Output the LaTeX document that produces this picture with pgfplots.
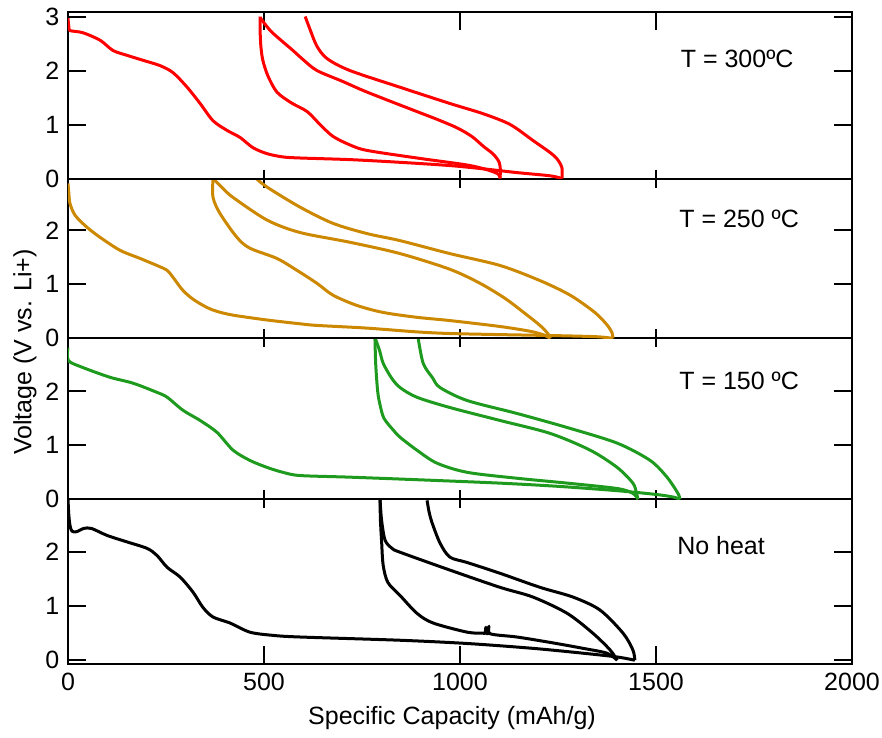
\documentclass[border=0pt]{standalone}
\usepackage{fontspec}
\setmainfont{Liberation Sans}
\usepackage{pgfplots}
\pgfplotsset{compat=1.18}

\definecolor{cA}{RGB}{255,0,0}
\definecolor{cB}{RGB}{204,136,0}
\definecolor{cC}{RGB}{30,155,30}

\pgfplotsset{
  panel/.style={
    scale only axis, width=313.6pt,
    xmin=0, xmax=2000,
    xtick={500,1000,1500}, xticklabels={},
    ytick={0,1,2},
    ytick pos=both, yticklabel pos=left,
    ytick align=inside,
    major tick length=7.2pt,
    every tick/.style={black, line width=0.8pt},
    axis line style={black, line width=0.8pt},
    tick label style={font=\fontsize{10}{12}\selectfont},
    /pgf/number format/assume math mode=true,
    every axis plot/.append style={line width=1.2pt, mark=none, line join=round,
      smooth, tension=0.5},
  }
}

\begin{document}
\begin{tikzpicture}
\useasboundingbox (-27.2pt,-29.2pt) rectangle (325.6pt,265.6pt);

% No heat
\begin{axis}[panel, name=p4, at={(0,0)}, anchor=south west,
  height=65.88pt, ymin=-0.07, ymax=2.98,
  xtick={0,500,1000,1500,2000}, xticklabels={0,500,1000,1500,2000},
  xtick pos=left, xtick align=inside]
\addplot[black] coordinates {(0,2.98)(2,2.70)(5,2.50)(10,2.39)(22,2.38)(40,2.44)(60,2.44)(100,2.31)(151,2.19)(202,2.07)(227,1.94)(253,1.72)(286,1.54)(319,1.26)(344,0.98)(370,0.80)(413,0.69)(464,0.52)(523,0.46)(592,0.43)(847,0.37)(1018,0.31)(1186,0.22)(1314,0.13)(1401,0.06)(1446,0.0)};
\addplot[black] coordinates {(796,2.98)(797,2.60)(800,2.20)(804,1.76)(816,1.44)(847,1.20)(890,0.87)(931,0.69)(1018,0.52)(1059,0.50)(1064,0.50)(1066,0.61)(1068,0.50)(1072,0.50)(1074,0.63)(1077,0.49)(1145,0.43)(1230,0.33)(1314,0.22)(1375,0.13)(1401,0.0)};
\addplot[black] coordinates {(796,2.98)(800,2.59)(809,2.22)(827,2.07)(847,2.00)(974,1.67)(1102,1.35)(1186,1.17)(1273,0.87)(1339,0.50)(1383,0.19)(1401,0.0)};
\addplot[black] coordinates {(916,2.96)(921,2.75)(929,2.54)(949,2.17)(974,1.91)(1018,1.81)(1102,1.61)(1204,1.35)(1288,1.17)(1357,0.93)(1416,0.50)(1441,0.19)(1446,0.0)};
\node at (axis cs:1666,2.13) {No heat};
\end{axis}

% T = 150 C
\begin{axis}[panel, name=p3, at={(p4.north west)}, anchor=south west,
  height=64.37pt, ymin=0, ymax=2.98,
  xtick pos=left, xtick align=center]
\addplot[cC] coordinates {(0,2.81)(1,2.57)(38,2.44)(107,2.26)(166,2.15)(227,1.98)(253,1.89)(293,1.65)(337,1.46)(380,1.24)(421,0.91)(464,0.72)(508,0.59)(548,0.50)(592,0.44)(719,0.41)(900,0.36)(1100,0.30)(1250,0.24)(1400,0.16)(1500,0.09)(1545,0.04)(1561,0.0)};
\addplot[cC] coordinates {(783,3.0)(785,2.5)(790,2.0)(796,1.75)(806,1.5)(830,1.28)(847,1.15)(890,0.91)(941,0.67)(1018,0.50)(1145,0.39)(1273,0.30)(1401,0.20)(1441,0.11)(1454,0.0)};
\addplot[cC] coordinates {(783,3.0)(795,2.75)(804,2.52)(825,2.25)(847,2.07)(890,1.89)(974,1.70)(1102,1.46)(1230,1.22)(1332,0.91)(1401,0.59)(1441,0.30)(1450,0.12)(1454,0.0)};
\addplot[cC] coordinates {(893,3.0)(906,2.52)(930,2.25)(949,2.07)(1018,1.83)(1145,1.59)(1273,1.33)(1401,1.04)(1485,0.72)(1528,0.41)(1556,0.11)(1561,0.0)};
\node at (axis cs:1712,2.20) {T = 150 ºC};
\end{axis}

% T = 250 C
\begin{axis}[panel, name=p2, at={(p3.north west)}, anchor=south west,
  height=63.94pt, ymin=0, ymax=2.96,
  xtick pos=both, xtick align=center]
\addplot[cB] coordinates {(0,2.87)(2,2.70)(5,2.50)(18,2.28)(48,2.06)(82,1.87)(133,1.63)(184,1.48)(230,1.34)(253,1.26)(268,1.13)(293,0.89)(320,0.72)(355,0.57)(380,0.50)(421,0.43)(508,0.34)(592,0.27)(635,0.24)(763,0.19)(890,0.12)(974,0.09)(1100,0.07)(1250,0.05)(1350,0.03)(1390,0.0)};
\addplot[cB] coordinates {(370,2.96)(370,2.61)(388,2.31)(431,1.87)(464,1.67)(533,1.48)(584,1.26)(635,1.02)(676,0.80)(737,0.61)(804,0.48)(890,0.39)(974,0.33)(1102,0.22)(1180,0.13)(1215,0.06)(1230,0.0)};
\addplot[cB] coordinates {(370,2.96)(395,2.78)(421,2.61)(508,2.19)(592,1.96)(719,1.78)(847,1.57)(974,1.28)(1051,1.02)(1115,0.74)(1166,0.46)(1204,0.24)(1224,0.09)(1230,0.0)};
\addplot[cB] coordinates {(477,2.98)(508,2.80)(592,2.43)(676,2.13)(763,1.94)(847,1.81)(974,1.57)(1102,1.35)(1204,1.07)(1281,0.80)(1344,0.48)(1375,0.25)(1388,0.10)(1390,0.0)};
\node at (axis cs:1712,2.22) {T = 250 ºC};
\end{axis}

% T = 300 C
\begin{axis}[panel, name=p1, at={(p2.north west)}, anchor=south west,
  height=66.53pt, ymin=0, ymax=3.08, ytick={0,1,2,3},
  xtick pos=right, xtick align=inside]
\addplot[cA] coordinates {(0,2.97)(2,2.82)(5,2.74)(38,2.70)(82,2.56)(115,2.37)(151,2.28)(191,2.19)(235,2.09)(268,1.96)(304,1.69)(337,1.39)(370,1.07)(406,0.89)(439,0.76)(472,0.57)(508,0.46)(548,0.40)(592,0.38)(719,0.35)(847,0.30)(974,0.24)(1059,0.18)(1145,0.11)(1230,0.05)(1260,0.0)};
\addplot[cA] coordinates {(1260,0.0)(1260,0.20)(1248,0.36)(1230,0.48)(1187,0.70)(1128,1.00)(1059,1.20)(974,1.39)(847,1.69)(719,2.00)(661,2.22)(635,2.45)(618,2.75)(605,3.0)};
\addplot[cA] coordinates {(490,3.0)(490,2.75)(492,2.45)(497,2.19)(510,1.90)(533,1.60)(570,1.40)(610,1.24)(643,1.00)(676,0.78)(720,0.62)(763,0.52)(890,0.38)(1018,0.25)(1070,0.16)(1098,0.08)(1102,0.0)};
\addplot[cA] coordinates {(1102,0.0)(1103,0.15)(1100,0.30)(1085,0.45)(1059,0.60)(1030,0.78)(992,0.94)(940,1.10)(890,1.24)(763,1.60)(700,1.80)(635,2.00)(600,2.20)(574,2.37)(545,2.55)(516,2.74)(490,2.98)};
\node at (axis cs:1707,2.22) {T = 300ºC};
\end{axis}

\node[rotate=90] at (-17.2pt,124.8pt) {Voltage (V vs. Li+)};
\node at (153.6pt,-21.6pt) {Specific Capacity (mAh/g)};
\end{tikzpicture}
\end{document}
